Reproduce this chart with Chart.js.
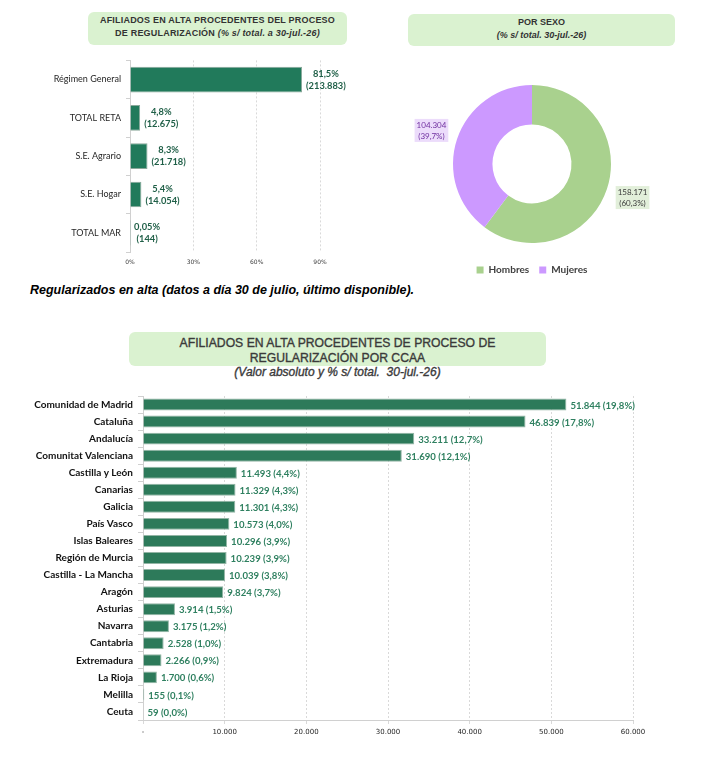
<!DOCTYPE html>
<html lang="es">
<head>
<meta charset="utf-8">
<title>Afiliados en alta procedentes del proceso de regularización</title>
<script src="https://cdn.jsdelivr.net/npm/chart.js@4.4.1/dist/chart.umd.min.js"></script>
<style>
  html, body { margin: 0; padding: 0; background: #fff; }
  body { width: 704px; height: 763px; position: relative; overflow: hidden; font-family: "Liberation Sans", Arial, sans-serif; }
  .box { position: absolute; background: #daf2d0; border-radius: 6px; color: #333; text-align: center; font-weight: bold; box-sizing: border-box; }
  .abs { position: absolute; }
  #t1 { left: 88px; top: 12px; width: 259px; height: 33px; font-size: 9px; line-height: 13px; padding-top: 2px; letter-spacing: 0.2px; }
  #t2 { left: 408px; top: 14px; width: 267px; height: 32px; font-size: 9px; line-height: 13px; padding-top: 2px; }
  #t3 { left: 129px; top: 332px; width: 417px; height: 34px; font-size: 12.2px; line-height: 14.5px; padding-top: 4px; font-weight: normal; color: #3a3a3a; -webkit-text-stroke: 0.35px #3a3a3a; }
  #sub3 { left: 129px; top: 364px; width: 417px; text-align: center; font-size: 12px; line-height: 16px; font-style: italic; color: #3a3a3a; -webkit-text-stroke: 0.35px #3a3a3a; }
  #caption { left: 30px; top: 283px; font-size: 12.5px; font-weight: bold; font-style: italic; color: #000; white-space: nowrap; }
  canvas { position: absolute; }
</style>
</head>
<body>
<div id="t1" class="box">AFILIADOS EN ALTA PROCEDENTES DEL PROCESO<br>DE REGULARIZACIÓN <i>(% s/ total. a 30-jul.-26)</i></div>
<div id="t2" class="box">POR SEXO<br><i>(% s/ total. 30-jul.-26)</i></div>
<div id="caption" class="abs">Regularizados en alta (datos a día 30 de julio, último disponible).</div>
<div id="t3" class="box">AFILIADOS EN ALTA PROCEDENTES DE PROCESO DE<br>REGULARIZACIÓN POR CCAA</div>
<div id="sub3" class="abs">(Valor absoluto y % s/ total.&nbsp; 30-jul.-26)</div>

<canvas id="regimen" width="360" height="222" style="left:0;top:50px;"></canvas>
<canvas id="sexo" width="344" height="225" style="left:360px;top:60px;"></canvas>
<canvas id="ccaa" width="704" height="360" style="left:0;top:385px;"></canvas>

<script>
// --- datos ---
const regimenLabels = ["Régimen General", "TOTAL RETA", "S.E. Agrario", "S.E. Hogar", "TOTAL MAR"];
const regimenPct = [81.5, 4.8, 8.3, 5.4, 0.05];
const regimenAbs = [213883, 12675, 21718, 14054, 144];
const regimenTicks = [0, 30, 60, 90];

const sexoLabels = ["Hombres", "Mujeres"];
const sexoAbs = [158171, 104304];
const sexoPct = [60.3, 39.7];

const ccaaLabels = ["Comunidad de Madrid", "Cataluña", "Andalucía", "Comunitat Valenciana", "Castilla y León",
  "Canarias", "Galicia", "País Vasco", "Islas Baleares", "Región de Murcia", "Castilla - La Mancha",
  "Aragón", "Asturias", "Navarra", "Cantabria", "Extremadura", "La Rioja", "Melilla", "Ceuta"];
const ccaaAbs = [51844, 46839, 33211, 31690, 11493, 11329, 11301, 10573, 10296, 10239, 10039,
  9824, 3914, 3175, 2528, 2266, 1700, 155, 59];
const ccaaPct = [19.8, 17.8, 12.7, 12.1, 4.4, 4.3, 4.3, 4.0, 3.9, 3.9, 3.8, 3.7, 1.5, 1.2, 1.0, 0.9, 0.6, 0.1, 0.0];
const ccaaTicks = [0, 10000, 20000, 30000, 40000, 50000, 60000];

// formato español
function miles(n) { return String(n).replace(/\B(?=(\d{3})+(?!\d))/g, "."); }
function coma(v, d) { return (d == null ? String(v) : v.toFixed(d)).replace(".", ","); }

const GRID = "#d9d9d9";
const AXIS = "#d0d0d0";

// ===== regimen =====
new Chart(document.getElementById("regimen"), {
  type: "bar",
  data: {
    labels: regimenLabels,
    datasets: [{
      data: regimenPct,
      backgroundColor: "#217a5b",
      borderColor: "#8aa89a",
      borderWidth: 1,
      barPercentage: 0.67,
      categoryPercentage: 1,
    }],
  },
  options: {
    indexAxis: "y",
    responsive: false,
    animation: false,
    events: [],
    layout: { padding: { top: 8, right: 40, left: 0, bottom: 0 } },
    plugins: { legend: { display: false }, tooltip: { enabled: false } },
    scales: {
      x: {
        min: 0, max: 90,
        afterBuildTicks: (s) => { s.ticks = regimenTicks.map((v) => ({ value: v })); },
        afterFit: (s) => { s.height = 20; },
        ticks: { font: { family: "DejaVu Sans", size: 6 }, color: "#404040", padding: 7, maxRotation: 0, callback: (v) => v + "%" },
        grid: { color: GRID, drawTicks: false },
        border: { display: false, dash: [2, 2] },
      },
      y: {
        afterFit: (s) => { s.width = 130; },
        ticks: { font: { family: "Lato", size: 9 }, color: "#262626", padding: 5 },
        grid: { drawOnChartArea: false, tickLength: 4, color: AXIS },
        border: { color: AXIS },
      },
    },
  },
  plugins: [{
    id: "regimenLabels",
    afterDatasetsDraw(chart) {
      const ctx = chart.ctx;
      ctx.save();
      ctx.font = "bold 9.3px Lato";
      ctx.fillStyle = "#1f5f47";
      ctx.textAlign = "center";
      ctx.textBaseline = "middle";
      chart.getDatasetMeta(0).data.forEach((bar, i) => {
        const l1 = coma(regimenPct[i]) + "%";
        const l2 = "(" + miles(regimenAbs[i]) + ")";
        const w = Math.max(ctx.measureText(l1).width, ctx.measureText(l2).width);
        const cx = bar.x + 4 + w / 2;
        ctx.fillText(l1, cx, bar.y - 6);
        ctx.fillText(l2, cx, bar.y + 6);
      });
      ctx.restore();
    },
  }],
});

// ===== sexo =====
const sexoColors = ["#a9d18e", "#cc99ff"];
const sexoBoxes = ["#e2efda", "#ecdcfb"];
const sexoText = ["#3a3a3a", "#7030a0"];
new Chart(document.getElementById("sexo"), {
  type: "doughnut",
  data: {
    labels: sexoLabels,
    datasets: [{ data: sexoAbs, backgroundColor: sexoColors, borderWidth: 0, radius: 79, cutout: "50%" }],
  },
  options: {
    responsive: false,
    animation: false,
    events: [],
    layout: { padding: { top: 13 } },
    plugins: {
      tooltip: { enabled: false },
      legend: {
        position: "bottom",
        labels: { boxWidth: 7, boxHeight: 7, padding: 10, color: "#404040", font: { family: "Lato", size: 10, weight: "bold" } },
      },
    },
  },
  plugins: [{
    id: "sexoLabels",
    afterDatasetsDraw(chart) {
      const ctx = chart.ctx;
      ctx.save();
      ctx.font = "8px Lato";
      ctx.textAlign = "center";
      ctx.textBaseline = "middle";
      chart.getDatasetMeta(0).data.forEach((arc, i) => {
        const p = arc.getProps(["x", "y", "startAngle", "endAngle", "outerRadius"], true);
        const mid = (p.startAngle + p.endAngle) / 2;
        const r = p.outerRadius + 27;
        const cx = p.x + Math.cos(mid) * r;
        const cy = p.y + Math.sin(mid) * r;
        const l1 = miles(sexoAbs[i]);
        const l2 = "(" + coma(sexoPct[i]) + "%)";
        const w = Math.max(ctx.measureText(l1).width, ctx.measureText(l2).width) + 4;
        ctx.fillStyle = sexoBoxes[i];
        ctx.fillRect(cx - w / 2, cy - 11.5, w, 23);
        ctx.fillStyle = sexoText[i];
        ctx.fillText(l1, cx, cy - 5);
        ctx.fillText(l2, cx, cy + 6);
      });
      ctx.restore();
    },
  }],
});

// ===== CCAA =====
new Chart(document.getElementById("ccaa"), {
  type: "bar",
  data: {
    labels: ccaaLabels,
    datasets: [{
      data: ccaaAbs,
      backgroundColor: "#2d7a5a",
      borderColor: "#93b5a5",
      borderWidth: 1,
      barPercentage: 0.7,
      categoryPercentage: 1,
    }],
  },
  options: {
    indexAxis: "y",
    responsive: false,
    animation: false,
    events: [],
    layout: { padding: { top: 9.5, right: 71, left: 0, bottom: 0 } },
    plugins: { legend: { display: false }, tooltip: { enabled: false } },
    scales: {
      x: {
        min: 0, max: 60000,
        afterBuildTicks: (s) => { s.ticks = ccaaTicks.map((v) => ({ value: v })); },
        afterFit: (s) => { s.height = 25; },
        ticks: { font: { family: "DejaVu Sans", size: 7 }, color: "#262626", padding: 4, maxRotation: 0, callback: (v) => (v === 0 ? "-" : miles(v)) },
        grid: { color: GRID, tickLength: 4 },
        border: { color: AXIS, dash: [2, 2] },
      },
      y: {
        afterFit: (s) => { s.width = 143; },
        ticks: { font: { family: "Lato", size: 10, weight: "bold" }, color: "#111", padding: 5 },
        grid: { drawOnChartArea: false, tickLength: 5, color: AXIS },
        border: { color: AXIS },
      },
    },
  },
  plugins: [{
    id: "ccaaLabels",
    afterDatasetsDraw(chart) {
      const ctx = chart.ctx;
      ctx.save();
      ctx.font = "bold 9.6px Lato";
      ctx.fillStyle = "#2f8060";
      ctx.textAlign = "left";
      ctx.textBaseline = "middle";
      chart.getDatasetMeta(0).data.forEach((bar, i) => {
        ctx.fillText(miles(ccaaAbs[i]) + " (" + coma(ccaaPct[i], 1) + "%)", bar.x + 4, bar.y + 1);
      });
      ctx.restore();
    },
  }],
});
</script>
</body>
</html>
